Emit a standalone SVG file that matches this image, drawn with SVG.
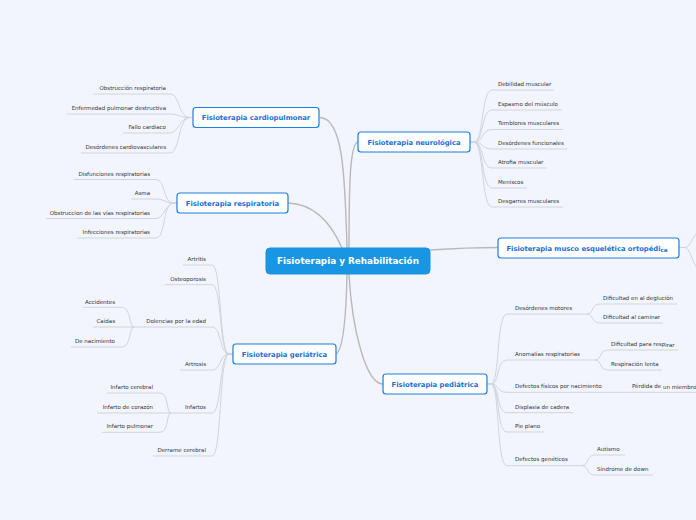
<svg xmlns="http://www.w3.org/2000/svg" width="696" height="520" viewBox="0 0 696 520">
<style>
.bg{fill:#f2f5fd}
.main{fill:#1996e3;stroke:#1b8fdc;stroke-width:1}
.mt{font-family:"DejaVu Sans",Verdana,sans-serif;font-weight:bold;font-size:8.8px;fill:#ffffff;text-anchor:middle}
.nd{fill:#ffffff;stroke:#1a7fe2;stroke-width:1.2}
.nt{font-family:"DejaVu Sans",Verdana,sans-serif;font-weight:bold;font-size:6.8px;fill:#1a6fd6;text-anchor:middle}
.lf{font-family:"DejaVu Sans",Verdana,sans-serif;font-size:5.5px;fill:#333333}
.r{text-anchor:end}
.c1{fill:none;stroke:#b9b9b9;stroke-width:1.4}
.c2{fill:none;stroke:#d2d4da;stroke-width:1}
</style>
<rect class="bg" x="0" y="0" width="696" height="520"/>

<g id="connectors">
  <!-- main connectors -->
  <path class="c1" d="M347,248 C345,175 343,118 320,117.5"/>
  <path class="c1" d="M288,203 C315,204 332,225 342,248"/>
  <path class="c1" d="M358,142 C350,143 349,185 349,248"/>
  <path class="c1" d="M430,250 C460,248 478,247.5 498,247.5"/>
  <path class="c1" d="M347,274 C346,322 343,350 336,354"/>
  <path class="c1" d="M349,274 C352,330 366,384 383,384"/>

  <!-- cardiopulmonar leaves -->
  <path class="c2" d="M93,94 H170 C180,94 178,117.5 190,117.5 H193"/>
  <path class="c2" d="M67,114 H170 C178,114 180,117.5 190,117.5 H193"/>
  <path class="c2" d="M123,133 H170 C178,133 180,117.5 190,117.5 H193"/>
  <path class="c2" d="M81,153 H170 C180,153 178,117.5 190,117.5 H193"/>

  <!-- respiratoria leaves -->
  <path class="c2" d="M74,179.5 H156 C166,179.5 162,203 174,203 H177"/>
  <path class="c2" d="M131,199 H156 C164,199 166,203 174,203 H177"/>
  <path class="c2" d="M46,218.5 H156 C164,218.5 166,203 174,203 H177"/>
  <path class="c2" d="M77,238 H156 C166,238 162,203 174,203 H177"/>

  <!-- neurologica leaves -->
  <path class="c2" d="M470,142 H474 C484,142 481,90 492,90 H554"/>
  <path class="c2" d="M470,142 H474 C484,142 481,110 492,110 H562"/>
  <path class="c2" d="M470,142 H474 C484,142 481,129.5 492,129.5 H563"/>
  <path class="c2" d="M470,142 H474 C484,142 481,149 492,149 H567"/>
  <path class="c2" d="M470,142 H474 C484,142 481,168 492,168 H547"/>
  <path class="c2" d="M470,142 H474 C484,142 481,188 492,188 H527"/>
  <path class="c2" d="M470,142 H474 C484,142 481,207 492,207 H563"/>

  <!-- musco leaves (off canvas) -->
  <path class="c2" d="M679,247.5 H685 C690,247.5 692,238 697,233"/>
  <path class="c2" d="M685,247.5 C690,248 692,262 697,268"/>

  <!-- geriatrica leaves -->
  <path class="c2" d="M183,265 H212 C222,265 219,354 229,354 H233"/>
  <path class="c2" d="M165,284.7 H212 C222,284.7 219,354 229,354 H233"/>
  <path class="c2" d="M133,327 H212 C222,327 219,354 229,354 H233"/>
  <path class="c2" d="M180,370 H212 C222,370 219,354 229,354 H233"/>
  <path class="c2" d="M170,413 H212 C222,413 219,354 229,354 H233"/>
  <path class="c2" d="M153,456 H212 C222,456 219,354 229,354 H233"/>
  <!-- dolencias sub -->
  <path class="c2" d="M83,307.3 H122 C131,307.3 129,327 134,327"/>
  <path class="c2" d="M93,327 H134"/>
  <path class="c2" d="M71,347 H122 C131,347 129,327 134,327"/>
  <!-- infartos sub -->
  <path class="c2" d="M107,393 H160 C169,393 166,413 171,413"/>
  <path class="c2" d="M97,413 H171"/>
  <path class="c2" d="M102,432.3 H160 C169,432.3 166,413 171,413"/>

  <!-- pediatrica leaves -->
  <path class="c2" d="M487,384 H491 C500,384 496,314 507,314 H587"/>
  <path class="c2" d="M487,384 H491 C500,384 496,360 507,360 H595"/>
  <path class="c2" d="M487,384 H491 C500,384 496,392.3 507,392.3 H696"/>
  <path class="c2" d="M487,384 H491 C500,384 496,412.7 507,412.7 H573"/>
  <path class="c2" d="M487,384 H491 C500,384 496,432 507,432 H544"/>
  <path class="c2" d="M487,384 H491 C500,384 496,465.7 507,465.7 H582"/>
  <!-- motores sub -->
  <path class="c2" d="M587,314 C594,314 591,304 600,304 H677"/>
  <path class="c2" d="M587,314 C594,314 591,323 600,323 H663"/>
  <!-- anomalias sub -->
  <path class="c2" d="M595,360 C602,360 599,350 608,350 H678"/>
  <path class="c2" d="M595,360 C602,360 599,370 608,370 H662"/>
  <!-- geneticos sub -->
  <path class="c2" d="M582,465.7 C589,465.7 586,455 595,455 H625"/>
  <path class="c2" d="M582,465.7 C589,465.7 586,475 595,475 H653"/>
</g>

<g id="main">
  <rect class="main" x="266" y="248" width="164" height="26" rx="4"/>
  <text class="mt" x="348" y="264.2">Fisioterapia y Rehabilitación</text>
</g>

<g id="cardiopulmonar">
  <rect class="nd" x="193" y="107.5" width="126" height="20" rx="3"/>
  <text class="nt" x="256" y="120">Fisioterapia cardiopulmonar</text>
</g>
<g id="cardio-leaves">
  <text class="lf r" x="166" y="90">Obstrucción respiratoria</text>
  <text class="lf r" x="166" y="110">Enfermedad pulmonar destructiva</text>
  <text class="lf r" x="166" y="129">Fallo cardiaco</text>
  <text class="lf r" x="166" y="149">Desórdenes cardiovasculares</text>
</g>

<g id="respiratoria">
  <rect class="nd" x="177" y="193" width="111" height="20" rx="3"/>
  <text class="nt" x="232.5" y="205.5">Fisioterapia respiratoria</text>
</g>
<g id="resp-leaves">
  <text class="lf r" x="150" y="175.5">Disfunciones respiratorias</text>
  <text class="lf r" x="150" y="195">Asma</text>
  <text class="lf r" x="150" y="214.5">Obstruccion de las vías respiratorias</text>
  <text class="lf r" x="150" y="234">Infecciones respiratorias</text>
</g>

<g id="neurologica">
  <rect class="nd" x="358" y="132" width="112" height="20" rx="3"/>
  <text class="nt" x="414" y="144.5">Fisioterapia neurológica</text>
</g>
<g id="neuro-leaves">
  <text class="lf" x="498" y="86">Debilidad muscular</text>
  <text class="lf" x="498" y="106">Espasmo del músculo</text>
  <text class="lf" x="498" y="125">Temblores musculares</text>
  <text class="lf" x="498" y="145">Desórdenes funcionales</text>
  <text class="lf" x="498" y="164">Atrofia muscular</text>
  <text class="lf" x="498" y="184">Meniscos</text>
  <text class="lf" x="498" y="203">Desgarres musculares</text>
</g>

<g id="musco">
  <rect class="nd" x="498" y="238" width="181" height="20" rx="3"/>
  <text class="nt" x="587" y="250.5">Fisioterapia musco esquelética ortopédi<tspan font-size="5.6" dy="1.2">ca</tspan></text>
</g>

<g id="geriatrica">
  <rect class="nd" x="233" y="344" width="103" height="20" rx="3"/>
  <text class="nt" x="284.5" y="356.5">Fisioterapia geriátrica</text>
</g>
<g id="geri-leaves">
  <text class="lf r" x="206" y="261">Artritis</text>
  <text class="lf r" x="206" y="280.5">Osteoporosis</text>
  <text class="lf r" x="206" y="323">Dolencias por la edad</text>
  <text class="lf r" x="206" y="366">Artrosis</text>
  <text class="lf r" x="206" y="409">Infartos</text>
  <text class="lf r" x="206" y="452">Derrame cerebral</text>
  <text class="lf r" x="115" y="303.5">Accidentes</text>
  <text class="lf r" x="115" y="323">Caídas</text>
  <text class="lf r" x="115" y="343">De nacimiento</text>
  <text class="lf r" x="153" y="389">Infarto cerebral</text>
  <text class="lf r" x="153" y="409">Infarto de corazón</text>
  <text class="lf r" x="153" y="428">Infarto pulmonar</text>
</g>

<g id="pediatrica">
  <rect class="nd" x="383" y="374" width="104" height="20" rx="3"/>
  <text class="nt" x="435" y="386.5">Fisioterapia pediátrica</text>
</g>
<g id="pedi-leaves">
  <text class="lf" x="515" y="310">Desórdenes motores</text>
  <text class="lf" x="515" y="356">Anomalías respiratorias</text>
  <text class="lf" x="515" y="388">Defectos físicos por nacimiento</text>
  <text class="lf" x="515" y="409">Displasia de cadera</text>
  <text class="lf" x="515" y="428">Pie plano</text>
  <text class="lf" x="515" y="461">Defectos genéticos</text>
  <text class="lf" x="603" y="300">Dificultad en al deglución</text>
  <text class="lf" x="603" y="319">Dificultad al caminar</text>
  <text class="lf" x="611" y="346">Dificultad para resp<tspan dy="1">irar</tspan></text>
  <text class="lf" x="611" y="366">Respiración lenta</text>
  <text class="lf" x="632" y="388">Pérdida de <tspan dy="1">un miembro</tspan></text>
  <text class="lf" x="597" y="450.5">Autismo</text>
  <text class="lf" x="597" y="470.5">Síndrome de down</text>
</g>
</svg>
